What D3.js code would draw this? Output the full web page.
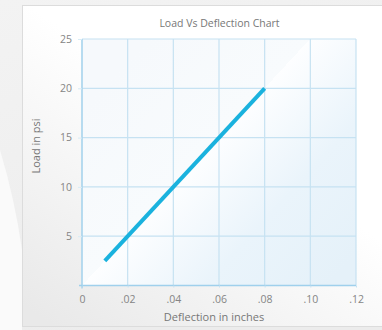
<!DOCTYPE html>
<html><head><meta charset="utf-8">
<script src="https://cdn.jsdelivr.net/npm/d3@7"></script>
<style>html,body{margin:0;padding:0;background:#fff;}svg{display:block;}</style>
</head><body>
<svg id="chart" width="382" height="330"></svg>
<script>
const title = "Load Vs Deflection Chart";
const xTitle = "Deflection in inches";
const yTitle = "Load in psi";
const xTickValues = [0, 0.02, 0.04, 0.06, 0.08, 0.10, 0.12];
const xTickLabels = ["0", ".02", ".04", ".06", ".08", ".10", ".12"];
const yTickValues = [5, 10, 15, 20, 25];
const yTickLabels = ["5", "10", "15", "20", "25"];
const deflection = [0.01, 0.08];
const load = [2.5, 20];

(function(){
const svg = d3.select("#chart");
const W = 382, H = 330;
const pL = 82, pR = 356, pT = 39, pB = 285.5;
const x = d3.scaleLinear().domain([0, 0.12]).range([pL, pR]);
const y = d3.scaleLinear().domain([0, 25]).range([pB, pT]);

const defs = svg.append("defs");
const bg = defs.append("linearGradient").attr("id","bg").attr("gradientUnits","userSpaceOnUse")
  .attr("x1",0).attr("y1",0).attr("x2",120).attr("y2",330);
bg.append("stop").attr("offset",0).attr("stop-color","#f3f3f3");
bg.append("stop").attr("offset",1).attr("stop-color","#ececec");
svg.append("rect").attr("width",W).attr("height",H).attr("fill","url(#bg)");
svg.append("path").attr("d","M0,150 Q15,200 22,250 L22,330 L0,330 Z").attr("fill","#fafafa");

const card = defs.append("linearGradient").attr("id","card").attr("gradientUnits","userSpaceOnUse")
  .attr("x1",200).attr("y1",120).attr("x2",60).attr("y2",330);
card.append("stop").attr("offset",0).attr("stop-color","#ffffff");
card.append("stop").attr("offset",1).attr("stop-color","#e9e9e9");
svg.append("rect").attr("x",22.5).attr("y",5.5).attr("width",370).attr("height",321)
  .attr("fill","url(#card)").attr("stroke","#dcdcdc").attr("stroke-width",1);

const nx = 0.734, ny = 0.679;
const pg = defs.append("linearGradient").attr("id","plotfill").attr("gradientUnits","userSpaceOnUse")
  .attr("x1", pL - 120*nx).attr("y1", pB - 120*ny)
  .attr("x2", pL + 180*nx).attr("y2", pB + 180*ny);
pg.append("stop").attr("offset",0).attr("stop-color","#f6f9fc");
pg.append("stop").attr("offset",0.4).attr("stop-color","#f8fbfd");
pg.append("stop").attr("offset",0.4).attr("stop-color","#fdfeff");
pg.append("stop").attr("offset",0.7).attr("stop-color","#eaf4fb");
pg.append("stop").attr("offset",1).attr("stop-color","#e5f1f9");
svg.append("rect").attr("x",pL).attr("y",pT).attr("width",pR-pL).attr("height",pB-pT)
  .attr("fill","url(#plotfill)");

const grid = svg.append("g").attr("stroke","#c6e2f2").attr("stroke-width",1.2);
grid.selectAll("line.v").data(xTickValues).join("line").attr("class","v")
  .attr("x1",d=>x(d)).attr("x2",d=>x(d)).attr("y1",pT).attr("y2",pB);
grid.selectAll("line.h").data(yTickValues).join("line").attr("class","h")
  .attr("x1",pL).attr("x2",pR).attr("y1",d=>y(d)).attr("y2",d=>y(d));

const font = "'Open Sans', sans-serif";
const xAxis = svg.append("g").attr("transform",`translate(0,${pB})`)
  .call(d3.axisBottom(x).tickValues(xTickValues).tickFormat((d,i)=>xTickLabels[i]).tickSize(2).tickPadding(8));
xAxis.select(".domain").attr("stroke","#9fd0ec").attr("stroke-width",1.5).attr("d",`M${pL-3},0H${pR}`);
xAxis.selectAll(".tick line").attr("stroke","#c6e2f2");
xAxis.selectAll("text").attr("fill","#858585").style("font-family",font).style("font-size","10.5px");

const yAxis = svg.append("g").attr("transform",`translate(${pL},0)`)
  .call(d3.axisLeft(y).tickValues(yTickValues).tickFormat((d,i)=>yTickLabels[i]).tickSize(4).tickPadding(6));
yAxis.select(".domain").attr("stroke","#9fd0ec").attr("stroke-width",1.2).attr("d",`M0,${pT}V${pB+3}`);
yAxis.selectAll(".tick line").attr("stroke","#d8ecf6");
yAxis.selectAll("text").attr("fill","#858585").style("font-family",font).style("font-size","10.5px");

const line = d3.line().x(d=>x(d[0])).y(d=>y(d[1]));
svg.append("path").datum(deflection.map((d,i)=>[d, load[i]]))
  .attr("d", line).attr("fill","none").attr("stroke","#1ab2de").attr("stroke-width",4).attr("stroke-linecap","butt");

svg.append("text").attr("x",219.5).attr("y",27).attr("text-anchor","middle")
  .attr("fill","#777").style("font-family",font).style("font-size","10.5px").text(title);
svg.append("text").attr("x",214).attr("y",321).attr("text-anchor","middle")
  .attr("fill","#777").style("font-family",font).style("font-size","11px").text(xTitle);
svg.append("text").attr("transform","translate(40,146) rotate(-90)").attr("text-anchor","middle")
  .attr("fill","#777").style("font-family",font).style("font-size","11px").text(yTitle);
})();
</script>
</body></html>
